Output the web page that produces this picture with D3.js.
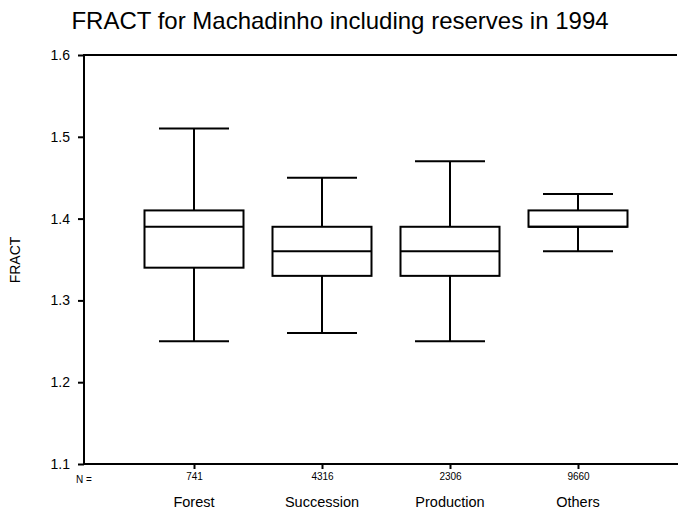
<!DOCTYPE html>
<html>
<head>
<meta charset="utf-8">
<script src="https://cdn.jsdelivr.net/npm/d3@7"></script>
<style>
  body { margin: 0; background: #fff; }
  text { font-family: "Liberation Sans", Arial, sans-serif; fill: #000; }
</style>
</head>
<body>
<div id="chart"></div>
<script>
var categories = ["Forest", "Succession", "Production", "Others"];
var counts = [741, 4316, 2306, 9660];
var whiskerLow = [1.25, 1.26, 1.25, 1.36];
var q1 = [1.34, 1.33, 1.33, 1.39];
var medians = [1.39, 1.36, 1.36, 1.39];
var q3 = [1.41, 1.39, 1.39, 1.41];
var whiskerHigh = [1.51, 1.45, 1.47, 1.43];
var yTicks = [1.1, 1.2, 1.3, 1.4, 1.5, 1.6];

var width = 678,
    height = 514;

var data = categories.map(function(c, i) {
  return {key: c, n: counts[i], lo: whiskerLow[i], q1: q1[i], med: medians[i], q3: q3[i], hi: whiskerHigh[i]};
});

var svg = d3.select("#chart")
  .append("svg")
    .attr("width", width)
    .attr("height", height);

var x = d3.scalePoint()
    .domain(categories)
    .range([194, 578]);

var y = d3.scaleLinear()
    .domain([1.1, 1.6])
    .range([464, 55]);

var boxW = 99, capW = 70;

// title
svg.append("text")
    .attr("x", 340)
    .attr("y", 29)
    .attr("text-anchor", "middle")
    .style("font-size", "24px")
    .text("FRACT for Machadinho including reserves in 1994");

// y axis
var yAxis = svg.append("g")
    .attr("transform", "translate(84,0)")
    .call(d3.axisLeft(y).tickValues(yTicks).tickFormat(d3.format(".1f")).tickSize(6).tickPadding(8));
yAxis.select(".domain").remove();
yAxis.selectAll(".tick line").attr("stroke-width", 2);
yAxis.selectAll(".tick text").style("font-size", "14px").style("font-family", "Liberation Sans, Arial, sans-serif");

// x axis
var xAxis = svg.append("g")
    .attr("transform", "translate(0,464)")
    .call(d3.axisBottom(x).tickSize(5).tickFormat(function(d, i) { return counts[i]; }).tickPadding(4));
xAxis.select(".domain").remove();
xAxis.selectAll(".tick line").attr("stroke-width", 2);
xAxis.selectAll(".tick text").style("font-size", "10px").style("font-family", "Liberation Sans Narrow, Liberation Sans, sans-serif");

// frame lines
svg.append("path")
    .attr("d", "M677,55 H84 V464 H678")
    .attr("fill", "none")
    .attr("stroke", "#000")
    .attr("stroke-width", 2);

svg.append("text")
    .attr("x", 84)
    .attr("y", 483)
    .attr("text-anchor", "middle")
    .style("font-size", "10px")
    .style("font-family", "Liberation Sans Narrow, Liberation Sans, sans-serif")
    .text("N =");

// category labels
svg.selectAll(".cat")
  .data(data)
  .enter()
  .append("text")
    .attr("class", "cat")
    .attr("x", function(d) { return x(d.key); })
    .attr("y", 507)
    .attr("text-anchor", "middle")
    .style("font-size", "14.5px")
    .text(function(d) { return d.key; });

// y label
svg.append("text")
    .attr("transform", "translate(20,260) rotate(-90)")
    .attr("text-anchor", "middle")
    .style("font-size", "14px")
    .text("FRACT");

// boxes
var g = svg.append("g")
    .attr("fill", "none")
    .attr("stroke", "#000")
    .attr("stroke-width", 2);

var box = g.selectAll("g")
  .data(data)
  .enter()
  .append("g");

box.append("line")
    .attr("x1", function(d) { return x(d.key); })
    .attr("x2", function(d) { return x(d.key); })
    .attr("y1", function(d) { return y(d.hi); })
    .attr("y2", function(d) { return y(d.q3); });
box.append("line")
    .attr("x1", function(d) { return x(d.key); })
    .attr("x2", function(d) { return x(d.key); })
    .attr("y1", function(d) { return y(d.q1); })
    .attr("y2", function(d) { return y(d.lo); });
box.append("line")
    .attr("x1", function(d) { return x(d.key) - capW / 2; })
    .attr("x2", function(d) { return x(d.key) + capW / 2; })
    .attr("y1", function(d) { return y(d.hi); })
    .attr("y2", function(d) { return y(d.hi); });
box.append("line")
    .attr("x1", function(d) { return x(d.key) - capW / 2; })
    .attr("x2", function(d) { return x(d.key) + capW / 2; })
    .attr("y1", function(d) { return y(d.lo); })
    .attr("y2", function(d) { return y(d.lo); });
box.append("rect")
    .attr("x", function(d) { return x(d.key) - boxW / 2; })
    .attr("width", boxW)
    .attr("y", function(d) { return y(d.q3); })
    .attr("height", function(d) { return y(d.q1) - y(d.q3); })
    .attr("fill", "#fff");
box.append("line")
    .attr("x1", function(d) { return x(d.key) - boxW / 2; })
    .attr("x2", function(d) { return x(d.key) + boxW / 2; })
    .attr("y1", function(d) { return y(d.med); })
    .attr("y2", function(d) { return y(d.med); });
</script>
</body>
</html>
